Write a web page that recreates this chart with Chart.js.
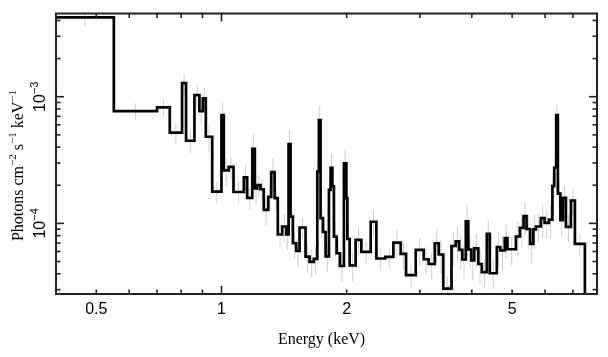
<!DOCTYPE html>
<html><head><meta charset="utf-8">
<style>html,body{margin:0;padding:0;background:#fff;}#wrap{width:608px;height:357px;}canvas{display:block;}</style>
<script src="https://cdn.jsdelivr.net/npm/chart.js@4.4.0/dist/chart.umd.min.js"></script>
</head><body><div id="wrap"><canvas id="c" width="608" height="357"></canvas></div>
<script>
// Bin edges (keV), N+1 values
const edges = [0.40, 0.551, 0.700, 0.751, 0.804, 0.822, 0.861, 0.885, 0.902, 0.917,
  0.950, 1.000, 1.013, 1.041, 1.069, 1.132, 1.153, 1.186, 1.203, 1.219,
  1.241, 1.264, 1.296, 1.317, 1.342, 1.366, 1.400, 1.431, 1.450, 1.466,
  1.485, 1.513, 1.541, 1.593, 1.629, 1.668, 1.700, 1.715, 1.731, 1.754,
  1.780, 1.813, 1.830, 1.848, 1.864, 1.892, 1.927, 1.970, 1.997, 2.008,
  2.034, 2.102, 2.170, 2.285, 2.358, 2.476, 2.591, 2.698, 2.779, 2.932,
  3.064, 3.150, 3.258, 3.331, 3.415, 3.574, 3.660, 3.728, 3.795, 3.869,
  3.923, 3.989, 4.055, 4.147, 4.227, 4.346, 4.419, 4.594, 4.684, 4.800,
  4.873, 5.106, 5.220, 5.327, 5.416, 5.525, 5.624, 5.703, 5.862, 5.984,
  6.129, 6.249, 6.312, 6.382, 6.442, 6.533, 6.624, 6.735, 6.924, 7.079,
  7.481];
// Flux per bin (photons cm^-2 s^-1 keV^-1)
const flux = [4.23e-3, 7.71e-4, 8.25e-4, 5.20e-4, 1.28e-3, 4.49e-4, 1.03e-3, 7.71e-4, 9.71e-4, 4.83e-4,
  1.78e-4, 7.17e-4, 2.62e-4, 2.79e-4, 1.77e-4, 2.31e-4, 1.59e-4, 3.87e-4, 1.89e-4, 2.01e-4,
  1.86e-4, 1.28e-4, 1.62e-4, 2.54e-4, 1.58e-4, 8.17e-5, 9.45e-5, 8.20e-5, 4.23e-4, 1.13e-4,
  6.97e-5, 6.06e-5, 9.28e-5, 5.46e-5, 4.96e-5, 5.24e-5, 2.56e-4, 6.55e-4, 1.10e-4, 8.55e-5,
  5.48e-5, 1.84e-4, 2.74e-4, 1.96e-4, 7.85e-5, 5.81e-5, 4.61e-5, 2.98e-4, 1.58e-4, 7.53e-5,
  4.65e-5, 7.40e-5, 5.95e-5, 1.03e-4, 5.28e-5, 5.43e-5, 7.04e-5, 5.75e-5, 3.91e-5, 6.17e-5,
  5.21e-5, 4.78e-5, 6.97e-5, 5.68e-5, 3.05e-5, 6.63e-5, 7.20e-5, 6.17e-5, 5.19e-5, 1.04e-4,
  6.22e-5, 5.10e-5, 6.36e-5, 4.78e-5, 4.13e-5, 8.25e-5, 4.04e-5, 6.51e-5, 6.11e-5, 7.67e-5,
  6.25e-5, 7.88e-5, 9.20e-5, 1.14e-4, 9.03e-5, 6.88e-5, 8.98e-5, 9.45e-5, 1.10e-4, 1.01e-4,
  1.07e-4, 1.97e-4, 2.75e-4, 7.17e-4, 1.72e-4, 1.06e-4, 1.59e-4, 9.37e-5, 1.51e-4, 6.88e-5];
// Fractional 1-sigma errors per bin
const fracErr = [0.15, 0.15, 0.15, 0.20, 0.18, 0.20, 0.20, 0.20, 0.20, 0.25,
  0.20, 0.25, 0.25, 0.20, 0.20, 0.25, 0.20, 0.30, 0.25, 0.20,
  0.20, 0.25, 0.20, 0.30, 0.20, 0.20, 0.25, 0.25, 0.30, 0.25,
  0.25, 0.25, 0.20, 0.25, 0.25, 0.25, 0.30, 0.30, 0.30, 0.30,
  0.25, 0.30, 0.30, 0.30, 0.30, 0.25, 0.25, 0.30, 0.30, 0.30,
  0.25, 0.25, 0.20, 0.25, 0.20, 0.20, 0.25, 0.25, 0.20, 0.25,
  0.25, 0.25, 0.30, 0.30, 0.25, 0.30, 0.30, 0.30, 0.30, 0.35,
  0.30, 0.30, 0.30, 0.30, 0.25, 0.30, 0.25, 0.30, 0.30, 0.30,
  0.25, 0.30, 0.30, 0.30, 0.30, 0.30, 0.30, 0.25, 0.30, 0.25,
  0.30, 0.30, 0.30, 0.20, 0.25, 0.25, 0.25, 0.25, 0.25, 0.20];
const xTickValues = [0.5, 1, 2, 5];
const xTickLabels = ['0.5', '1', '2', '5'];
const yTickValues = [1e-4, 1e-3];
const yTickExponents = ['\u22124', '\u22123'];
const xRange = [0.4, 8];
const yRange = [2.77e-5, 4.54e-3];
const xTitle = 'Energy (keV)';
const yTitleParts = [['Photons cm', 0], ['\u22122', 1], [' s', 0], ['\u22121', 1], [' keV', 0], ['\u22121', 1]];

// Build datasets
const histPts = [];
for (let i = 0; i < flux.length; i++) histPts.push({x: edges[i], y: flux[i]});
histPts.push({x: edges[edges.length - 1], y: flux[flux.length - 1]});
histPts.push({x: edges[edges.length - 1], y: yRange[0]});
const errPts = [];
for (let i = 0; i < flux.length; i++) {
  const xc = Math.sqrt(edges[i] * edges[i + 1]);
  errPts.push({x: xc, y: flux[i] * (1 - fracErr[i])});
  errPts.push({x: xc, y: flux[i] * (1 + fracErr[i])});
  errPts.push({x: xc, y: null});
}

const SANS = '"Liberation Sans", Arial, sans-serif';
const SERIF = '"Liberation Serif", "Times New Roman", serif';

const framePlugin = {
  id: 'frame',
  afterDatasetsDraw(chart) {
    const {ctx, chartArea: a, scales: {x, y}} = chart;
    ctx.save();
    ctx.strokeStyle = '#222';
    ctx.lineWidth = 1.6;
    const seg = (x1, y1, x2, y2) => { ctx.beginPath(); ctx.moveTo(x1, y1); ctx.lineTo(x2, y2); ctx.stroke(); };
    for (let d = -1; d <= 0; d++) for (let m = 1; m <= 9; m++) {
      const v = m * Math.pow(10, d);
      if (v <= xRange[0] || v >= xRange[1]) continue;
      const px = x.getPixelForValue(v);
      const L = m === 1 ? 8 : 4.5;
      seg(px, a.bottom, px, a.bottom - L);
      seg(px, a.top, px, a.top + L);
    }
    for (let d = -5; d <= -3; d++) for (let m = 1; m <= 9; m++) {
      const v = m * Math.pow(10, d);
      if (v <= yRange[0] || v >= yRange[1]) continue;
      const py = y.getPixelForValue(v);
      const L = m === 1 ? 8 : 4.5;
      seg(a.left, py, a.left + L, py);
      seg(a.right, py, a.right - L, py);
    }
    ctx.lineWidth = 2;
    ctx.strokeRect(a.left, a.top, a.right - a.left, a.bottom - a.top);

    ctx.fillStyle = '#000';
    // y tick labels, rotated
    yTickValues.forEach((v, i) => {
      const py = y.getPixelForValue(v);
      ctx.save();
      ctx.translate(45, py);
      ctx.rotate(-Math.PI / 2);
      ctx.font = '16px ' + SANS;
      const w1 = ctx.measureText('10').width;
      ctx.font = '11px ' + SANS;
      const w2 = ctx.measureText(yTickExponents[i]).width;
      const s = -(w1 + w2) / 2;
      ctx.textBaseline = 'alphabetic';
      ctx.textAlign = 'left';
      ctx.font = '16px ' + SANS;
      ctx.fillText('10', s, 0);
      ctx.font = '11px ' + SANS;
      ctx.fillText(yTickExponents[i], s + w1, -7);
      ctx.restore();
    });
    // y title
    ctx.save();
    ctx.translate(23, 165.5);
    ctx.rotate(-Math.PI / 2);
    let total = 0;
    const widths = yTitleParts.map(([t, sup]) => { ctx.font = (sup ? '11px ' : '16px ') + SERIF; const w = ctx.measureText(t).width; total += w; return w; });
    let cx = -total / 2;
    ctx.textBaseline = 'alphabetic';
    ctx.textAlign = 'left';
    yTitleParts.forEach(([t, sup], i) => {
      ctx.font = (sup ? '11px ' : '16px ') + SERIF;
      ctx.fillText(t, cx, sup ? -7 : 0);
      cx += widths[i];
    });
    ctx.restore();
    // x title
    ctx.font = '16px ' + SERIF;
    ctx.textAlign = 'center';
    ctx.textBaseline = 'middle';
    ctx.fillText(xTitle, 321.5, 339.5);
    ctx.restore();
  }
};

new Chart(document.getElementById('c').getContext('2d'), {
  type: 'line',
  data: {datasets: [
    {label: 'errors', data: errPts, borderColor: '#cfcfcf', borderWidth: 1, pointRadius: 0, spanGaps: false, fill: false, order: 2},
    {label: 'spectrum', data: histPts, stepped: 'before', borderColor: '#000', borderWidth: 2.7, borderJoinStyle: 'miter', pointRadius: 0, fill: false, order: 1}
  ]},
  options: {
    responsive: false, animation: false, devicePixelRatio: 1,
    layout: {padding: {left: 56, right: 11, top: 13.5, bottom: 0}},
    plugins: {legend: {display: false}, tooltip: {enabled: false}},
    scales: {
      x: {
        type: 'logarithmic', min: xRange[0], max: xRange[1],
        grid: {display: false}, border: {display: false},
        afterBuildTicks: s => { s.ticks = xTickValues.map(v => ({value: v})); },
        afterFit: s => { s.height = 63; },
        ticks: {
          autoSkip: false, maxRotation: 0, padding: -2, color: '#000',
          font: {family: SANS, size: 16},
          callback: (v) => { const i = xTickValues.indexOf(v); return i >= 0 ? xTickLabels[i] : ''; }
        }
      },
      y: {type: 'logarithmic', min: yRange[0], max: yRange[1], display: false}
    }
  },
  plugins: [framePlugin]
});
</script>
</body></html>
